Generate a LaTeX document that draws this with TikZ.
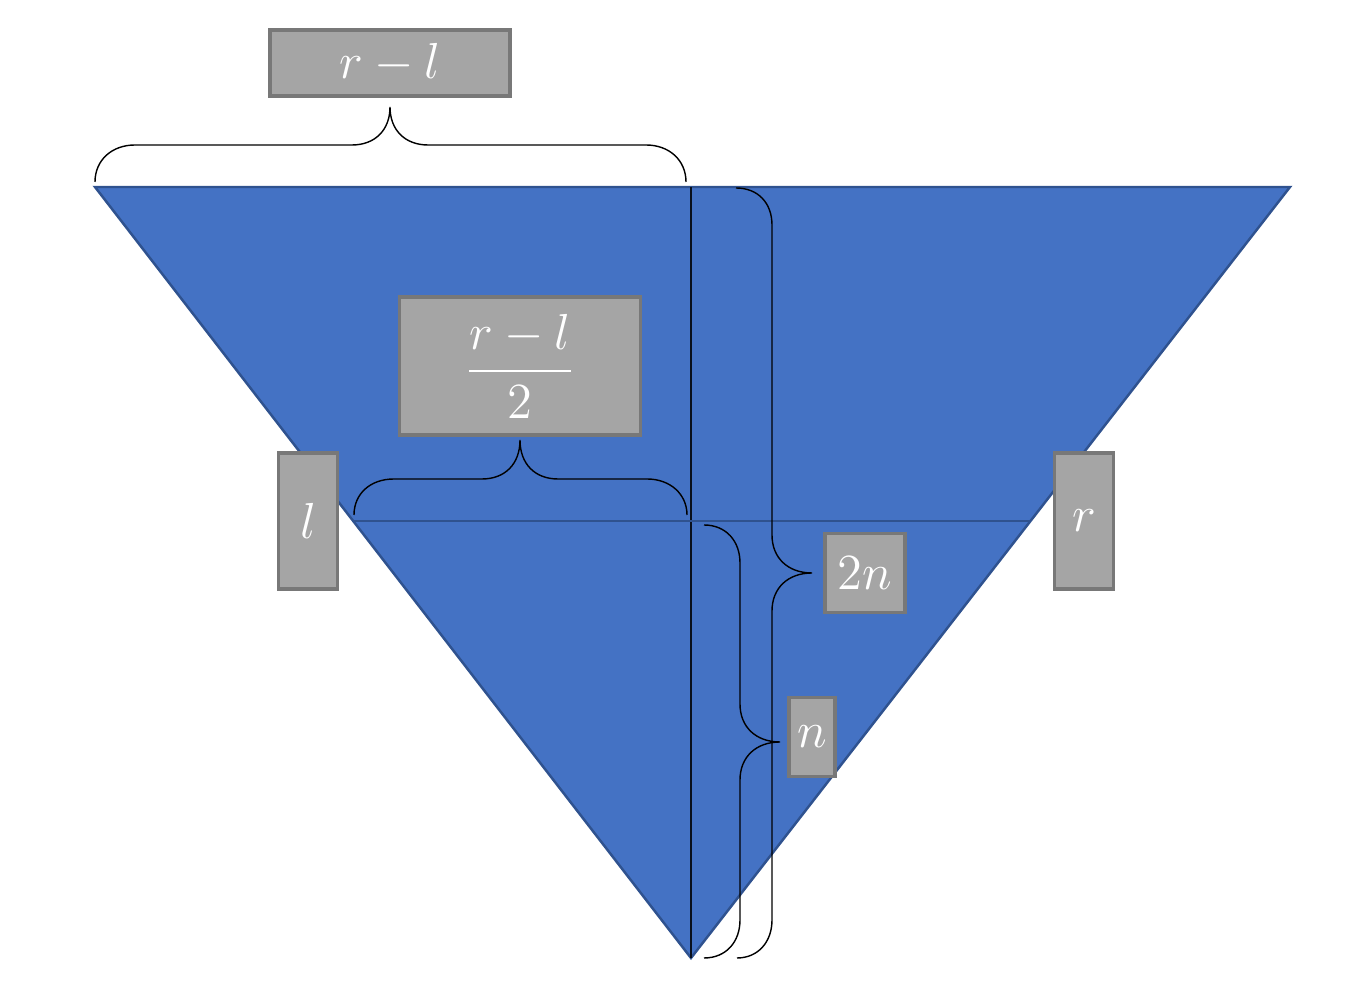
\documentclass[tikz,border=0pt]{standalone}
\usepackage{amsmath}
\usepackage{tikz}
\usetikzlibrary{positioning}
\definecolor{triblue}{HTML}{4472C4}
\definecolor{triedge}{HTML}{2F528F}
\definecolor{boxgray}{HTML}{A5A5A5}
\definecolor{boxedge}{HTML}{787878}
\tikzset{
	lbl/.style={draw=boxedge,line width=0.9pt,fill=boxgray,text=white,inner sep=0pt,font=\fontsize{14}{17}\selectfont},
	brc/.style={black,line width=0.4pt}
}
\begin{document}
\begin{tikzpicture}[x=0.01cm,y=-0.01cm]
		\useasboundingbox (0,0) rectangle (1372,992);
		% triangle
		\coordinate (tl) at (95,187);
		\coordinate (tr) at (1290,187);
		\coordinate (bot) at (691,958);
		\fill [triblue,draw=triedge,line width=0.7pt] (tl)--(tr)--(bot)--cycle;
		\coordinate (top) at (691,187);
		\coordinate (ml) at (353,521);
		\coordinate (mr) at (1030,521);
		\draw [black!80!triedge,line width=0.4pt] (top)--(bot);
		\draw [triedge,line width=0.8pt] (ml)--(mr);
		% braces
		\draw [brc] (95,182) .. controls (95,160) and (112,145) .. (135,145) -- (352,145)
			.. controls (375,145) and (390,130) .. (390,107)
			.. controls (390,130) and (405,145) .. (428,145) -- (646,145)
			.. controls (669,145) and (686,160) .. (686,182);
		\draw [brc] (354,515) .. controls (354,494) and (370,479) .. (394,479) -- (482,479)
			.. controls (505,479) and (520,464) .. (520,440)
			.. controls (520,464) and (535,479) .. (558,479) -- (647,479)
			.. controls (670,479) and (687,494) .. (687,515);
		\draw [brc] (736,188) .. controls (758,188) and (772,203) .. (772,225) -- (772,535)
			.. controls (772,558) and (788,573) .. (812,573)
			.. controls (788,573) and (772,588) .. (772,611) -- (772,920)
			.. controls (772,942) and (758,958) .. (737,958);
		\draw [brc] (704,525) .. controls (726,525) and (740,541) .. (740,563) -- (740,704)
			.. controls (740,727) and (756,742) .. (780,742)
			.. controls (756,742) and (740,757) .. (740,780) -- (740,920)
			.. controls (740,942) and (726,958) .. (704,958);
		% labels
		\node [lbl,minimum width=240*0.01cm,minimum height=66*0.01cm] (rl) at (390,63) {$r-l$};
		\node [lbl,minimum width=241*0.01cm,minimum height=138*0.01cm] (half) at (520,366) {$\dfrac{r-l}{2}$};
		\node [lbl,minimum width=59*0.01cm,minimum height=136*0.01cm] (l) at (308,521) {$l$};
		\node [lbl,minimum width=59*0.01cm,minimum height=136*0.01cm] (r) at (1084,521) {$r$};
		\node [lbl,minimum width=80*0.01cm,minimum height=79*0.01cm] (twon) at (865,573) {$2n$};
		\node [lbl,minimum width=46*0.01cm,minimum height=79*0.01cm] (n) at (812,737) {$n$};
\end{tikzpicture}
\end{document}
